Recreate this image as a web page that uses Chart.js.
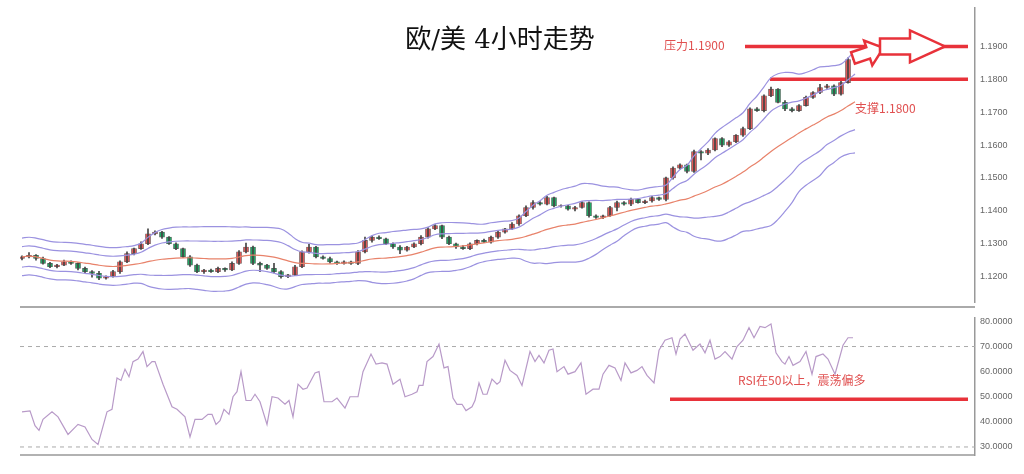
<!DOCTYPE html>
<html><head><meta charset="utf-8">
<script src="https://cdn.jsdelivr.net/npm/chart.js@4.4.0/dist/chart.umd.min.js"></script>
<style>
html,body{margin:0;padding:0;background:#fff;width:1024px;height:474px;overflow:hidden}
#w1{position:absolute;left:0;top:0;width:1024px;height:310px}
#w2{position:absolute;left:0;top:310px;width:1024px;height:164px}
</style></head><body>
<div id="w1"><canvas id="c1"></canvas></div>
<div id="w2"><canvas id="c2"></canvas></div>
<script>
// ---- data ----
const closes = [1.1260,1.1265,1.1255,1.1240,1.1230,1.1235,1.1245,1.1240,1.1225,1.1215,
1.1210,1.1195,1.1200,
1.1215,1.1245,1.1270,1.1285,1.1300,1.1330,
1.1335,1.1320,1.1300,
1.1285,1.1260,1.1235,1.1215,
1.1220,1.1215,1.1225,1.1220,1.1240,1.1275,
1.1290,1.1240,
1.1235,1.1225,1.1215,1.1200,1.1205,1.1230,
1.1275,1.1290,
1.1260,1.1255,1.1245,1.1240,1.1245,1.1240,
1.1275,1.1310,1.1320,1.1315,1.1300,
1.1290,1.1280,1.1290,1.1300,1.1320,
1.1345,1.1355,1.1320,
1.1300,1.1290,1.1285,
1.1300,1.1310,1.1305,1.1320,1.1335,
1.1345,1.1360,1.1385,1.1410,
1.1425,1.1420,1.1440,1.1415,
1.1415,1.1405,1.1410,1.1425,
1.1385,1.1380,1.1385,1.1410,
1.1425,1.1420,1.1435,1.1425,1.1430,1.1440,1.1435,
1.1500,
1.1530,1.1540,1.1520,
1.1580,
1.1575,1.1585,1.1620,
1.1600,1.1610,1.1630,
1.1650,1.1710,
1.1705,1.1750,
1.1770,1.1730,
1.1710,1.1705,1.1720,
1.1745,1.1760,
1.1775,1.1780,
1.1755,
1.1790,
1.1860,
1.1875];
const firstOpen = 1.1255;
// wick extensions in pips (0.0001)
const upWick = [3,8,2,4,3,2,5,3,2,4, 3,6,2, 4,3,5,2,6,15, 4,3,2, 3,2,4,3, 2,3,4,2,5,4, 12,3, 4,2,15,3,2,4, 3,8, 2,3,4,2,3,2, 4,10,3,4,2, 3,4,2,3,5, 4,3,2, 3,2,4, 3,2,4,3,5, 2,4,3,5, 6,3,4,2, 3,2,4,3, 2,3,2,4, 5,3,4,2,3,4,2, 3, 4,3,2, 5, 3,4,2, 3,4,2, 5,3, 4,3, 6,2, 5,4,3, 4,3, 10,5, 3, 4, 5, 8];
const dnWick = [4,3,5,2,3,4,2,3,5,3, 12,4,3, 2,5,3,4,2,3, 3,4,2, 3,2,4,3, 5,2,3,4,2,3, 3,4, 20,3,4,5,3,2, 3,4, 3,2,4,3,2,3, 4,3,5,2,3, 4,10,3,2,4, 3,2,5, 3,4,2, 3,4,2,3,4, 3,2,4,3, 5,3,2,3, 4,3,5,2, 4,3,4,2, 10,3,4,2,3,4,3, 5, 4,3,5, 3, 20,4,3, 5,4,3, 4,3, 3,4, 3,2, 5,4,3, 2,3, 4,3, 5, 3, 2, 3];
const rsiPts = [
[22,44],[30,44.4],[35,38.5],[39,36.6],[43,41],[52,44],[58,42],[68,35],[78,39],[85,38],[92,33],[98,31],
[107,44],[112,45],[117,57.5],[121,56.5],[125,61],[129,58],[133,64],[138,65],[143,68],[147,62],[152,64],[155,64],
[163,55],[172,46],[177,45],[185,42],[190,34],[195,41],[202,41],[208,43],[212,43],[216,39],[220,40.5],[224,45],
[229,43],[233,50],[237,52],[241,60],[246,48.5],[251,48.5],[255,51],[260,48],[267,39],[272,50],[278,49.5],
[285,47],[289,48.5],[293,42],[298,55],[303,53],[307,53.5],[315,59.5],[319,60],[324,48],[332,48],[337,49.5],
[345,45.5],[350,50],[358,50],[363,60],[371,67],[376,63],[382,63.5],[387,63],[393,55],[400,57],[405,50],
[412,51],[417,52],[419,54.5],[423,54.5],[427,64],[433,66],[439,71],[444,61.5],[448,62],[453,49.5],[457,47],
[462,47],[466,44.5],[472,46],[475,48.5],[479,55.5],[483,51],[487,51],[492,57],[497,55],[500,56],
[505,64.5],[510,60.5],[517,58.5],[522,54.5],[530,68],[535,64],[539,66.5],[544,63.5],[549,68.5],[553,69],
[557,60],[564,62],[568,59],[575,60],[581,63.5],[586,51],[593,53],[599,53],[603,59],[609,62.5],[615,61.5],
[621,56.5],[625,63.5],[631,59.5],[637,60.5],[642,62],[647,58.5],[654,55.5],[659,68.5],[665,72.5],[672,73.5],
[676,67],[680,73],[685,75],[693,68.5],[700,71],[705,67.5],[710,72.5],[715,65],[720,66],[725,68],[732,65],
[737,70],[743,72.5],[749,77.5],[754,73.5],[760,78],[765,77.5],[771,79],[776,67.5],[782,64],[785,63],[789,66],
[793,62.5],[800,64],[806,68],[812,59],[816,66],[823,67],[828,65],[835,59],[843,70.5],[848,73.5],[853,73.5]];
const priceTicks = [1.12,1.13,1.14,1.15,1.16,1.17,1.18,1.19];
const rsiTicks = [30,40,50,60,70,80];

// ---- helpers ----
const px2i = x => (x-22)/7;
const opens = closes.map((c,i)=> i===0 ? firstOpen : closes[i-1]);
const up = closes.map((c,i)=> c>=opens[i]);
const bodies = closes.map((c,i)=>({x:i, y:[opens[i], c===opens[i]?c+0.00008:c]}));
const wicks = closes.map((c,i)=>({x:i, y:[Math.min(c,opens[i])-dnWick[i]/10000, Math.max(c,opens[i])+upWick[i]/10000]}));
function band(k){ return closes.map((c,i)=>{const s=closes.slice(Math.max(0,i-19),i+1);const m=s.reduce((a,b)=>a+b,0)/s.length;
  const sd=Math.sqrt(s.reduce((a,b)=>a+(b-m)*(b-m),0)/s.length); return {x:i,y:m+k*Math.max(sd,0.0026)};}); }
const RED='#e8323a', UP='#e05a5a', DN='#23a866';
const XMIN=px2i(20), XMAX=px2i(975);

const overlay1 = {id:'ov1', afterDatasetsDraw(ch){
  const c=ch.ctx, ys=ch.scales.y;
  c.save();
  c.fillStyle='#111'; c.font='26px "DejaVu Serif","Liberation Serif","Noto Sans CJK SC",serif'; c.textAlign='center'; c.textBaseline='middle';
  c.fillText('欧/美 4小时走势', 500, 41);
  c.font='12px "Noto Sans CJK SC",sans-serif'; c.fillStyle='#e05050'; c.textAlign='left';
  c.fillText('压力1.1900', 664, ys.getPixelForValue(1.1902));
  c.fillText('支撑1.1800', 855, ys.getPixelForValue(1.1712));
  c.strokeStyle=RED; c.lineWidth=2.5; c.fillStyle='#fff';
  const y0=ys.getPixelForValue(1.19);
  function arrow(pts){c.beginPath();pts.forEach((p,i)=>i?c.lineTo(p[0],p[1]):c.moveTo(p[0],p[1]));c.closePath();c.fill();c.stroke();}
  c.save(); c.translate(853,58); c.rotate(-0.32);
  arrow([[0,-6],[16,-6],[16,-13],[32,0],[16,13],[16,6],[0,6]]); c.restore();
  arrow([[880,y0-8],[910,y0-8],[910,y0-16],[945,y0],[910,y0+16],[910,y0+8],[880,y0+8]]);
  c.strokeStyle='#aaa'; c.lineWidth=2; c.beginPath(); c.moveTo(20,307); c.lineTo(975,307); c.stroke();
  c.restore();
}};
const overlay2 = {id:'ov2', afterDatasetsDraw(ch){
  const c=ch.ctx, ys=ch.scales.y;
  c.save(); c.font='12px "Noto Sans CJK SC",sans-serif'; c.fillStyle='#e05050'; c.textBaseline='middle';
  c.fillText('RSI在50以上，震荡偏多', 738, ys.getPixelForValue(56.5));
  c.strokeStyle='#999'; c.lineWidth=1.5; c.beginPath(); c.moveTo(20,ch.chartArea.bottom); c.lineTo(975,ch.chartArea.bottom); c.stroke();
  c.restore();
}};
const yAxisCommon = (ticks)=>({position:'right', afterFit:s=>{s.width=49;},
  afterBuildTicks:s=>{s.ticks=ticks.map(v=>({value:v}));},
  grid:{display:false, drawTicks:true, tickLength:3, tickColor:'#999'},
  border:{display:true,color:'#999',width:1.5},
  ticks:{color:'#666',font:{size:9,family:'Liberation Sans'},padding:2,callback:v=>v.toFixed(4)}});

new Chart(document.getElementById('c1'),{
  type:'bar',
  data:{datasets:[
    {type:'line',data:band(2.2),borderColor:'#9b92e0',borderWidth:1.2,pointRadius:0,tension:0.4},
    {type:'line',data:band(1.2),borderColor:'#9b92e0',borderWidth:1.2,pointRadius:0,tension:0.4},
    {type:'line',data:band(0),borderColor:'#e8826a',borderWidth:1.2,pointRadius:0,tension:0.4},
    {type:'line',data:band(-1.2),borderColor:'#9b92e0',borderWidth:1.2,pointRadius:0,tension:0.4},
    {type:'line',data:band(-2.2),borderColor:'#9b92e0',borderWidth:1.2,pointRadius:0,tension:0.4},
    {data:wicks,backgroundColor:'#444',barThickness:1,grouped:false},
    {data:bodies,backgroundColor:up.map(u=>u?UP:DN),borderColor:'#555',borderWidth:0.6,borderSkipped:false,barThickness:5,grouped:false},
    {type:'line',data:[{x:px2i(745),y:1.19},{x:px2i(968),y:1.19}],borderColor:RED,borderWidth:3.5,pointRadius:0},
    {type:'line',data:[{x:px2i(770),y:1.18},{x:px2i(968),y:1.18}],borderColor:RED,borderWidth:3.5,pointRadius:0}
  ]},
  options:{responsive:true,maintainAspectRatio:false,animation:false,
    layout:{padding:{left:20,top:0,bottom:0,right:0}},
    plugins:{legend:{display:false},tooltip:{enabled:false}},
    scales:{x:{type:'linear',min:XMIN,max:XMAX,offset:false,display:false},
      y:Object.assign(yAxisCommon(priceTicks),{min:1.11209,max:1.20187})}},
  plugins:[overlay1]
});

new Chart(document.getElementById('c2'),{
  type:'line',
  data:{datasets:[
    {data:rsiPts.map(p=>({x:px2i(p[0]),y:p[1]})),borderColor:'#b89ac8',borderWidth:1.2,pointRadius:0},
    {data:[{x:XMIN,y:70},{x:XMAX,y:70}],borderColor:'#aaa',borderWidth:1,borderDash:[4,4],pointRadius:0},
    {data:[{x:XMIN,y:30},{x:XMAX,y:30}],borderColor:'#aaa',borderWidth:1,borderDash:[4,4],pointRadius:0},
    {data:[{x:px2i(670),y:49},{x:px2i(968),y:49}],borderColor:RED,borderWidth:3.5,pointRadius:0}
  ]},
  options:{responsive:true,maintainAspectRatio:false,animation:false,
    layout:{padding:{left:20,top:2,bottom:19,right:0}},
    plugins:{legend:{display:false},tooltip:{enabled:false}},
    scales:{x:{type:'linear',min:XMIN,max:XMAX,offset:false,display:false},
      y:Object.assign(yAxisCommon(rsiTicks),{min:26.8,max:81.6})}},
  plugins:[overlay2]
});
</script></body></html>
